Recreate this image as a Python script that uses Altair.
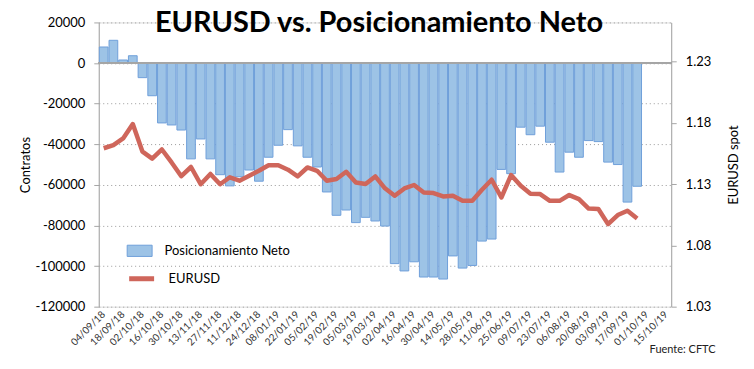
import altair as alt
import pandas as pd

weeks = [
    "04/09/18", "11/09/18", "18/09/18", "25/09/18", "02/10/18", "09/10/18",
    "16/10/18", "23/10/18", "30/10/18", "06/11/18", "13/11/18", "20/11/18",
    "27/11/18", "04/12/18", "11/12/18", "18/12/18", "24/12/18", "31/12/18",
    "08/01/19", "15/01/19", "22/01/19", "29/01/19", "05/02/19", "12/02/19",
    "19/02/19", "26/02/19", "05/03/19", "12/03/19", "19/03/19", "26/03/19",
    "02/04/19", "09/04/19", "16/04/19", "23/04/19", "30/04/19", "07/05/19",
    "14/05/19", "21/05/19", "28/05/19", "04/06/19", "11/06/19", "18/06/19",
    "25/06/19", "02/07/19", "09/07/19", "16/07/19", "23/07/19", "30/07/19",
    "06/08/19", "13/08/19", "20/08/19", "27/08/19", "03/09/19", "10/09/19",
    "17/09/19", "24/09/19", "01/10/19", "08/10/19", "15/10/19",
]

net_positions = [
    7900, 11200, 1500, 3600, -7200, -16100, -29500, -30500, -33000, -47200,
    -37400, -47200, -55000, -60500, -56000, -52700, -58200, -46400, -40500, -32800,
    -40800, -46400, -51200, -63500, -75000, -72400, -78600, -76000, -77800, -80300,
    -98800, -102400, -97900, -105400, -105400, -106400, -95000, -101000, -99700, -87700,
    -86700, -52400, -54500, -31600, -35300, -31100, -39000, -53700, -43900, -46400,
    -38200, -38700, -48800, -50000, -68500, -60700,
]

eurusd = [
    1.1593, 1.1619, 1.1673, 1.1791, 1.1565, 1.1508, 1.1583, 1.1477, 1.1365, 1.1440,
    1.1299, 1.1383, 1.1299, 1.1356, 1.1328, 1.1369, 1.1409, 1.1454, 1.1454, 1.1418,
    1.1363, 1.1436, 1.1409, 1.1328, 1.1342, 1.1401, 1.1314, 1.1301, 1.1363, 1.1266,
    1.1205, 1.1265, 1.1293, 1.1232, 1.1227, 1.1200, 1.1205, 1.1164, 1.1164, 1.1254,
    1.1336, 1.1191, 1.1374, 1.1287, 1.1222, 1.1219, 1.1164, 1.1164, 1.1211, 1.1178,
    1.1101, 1.1097, 1.0974, 1.1048, 1.1083, 1.1020,
]

tick_labels = weeks[::2]
left_ticks = [20000, 0, -20000, -40000, -60000, -80000, -100000, -120000]
right_ticks = [1.03, 1.08, 1.13, 1.18, 1.23]
series_names = ["Posicionamiento Neto", "EURUSD"]

n = len(net_positions)
df = pd.DataFrame({
    "Semana": weeks[:n],
    "Neto": net_positions,
    "EURUSD": eurusd,
    "SerieBar": [series_names[0]] * n,
    "SerieLine": [series_names[1]] * n,
})

FONT = "Lato"
BAR_FILL = "#9DC3E6"
BAR_STROKE = "#6FA0DA"
LINE_COLOR = "#CF665B"
AXIS_COLOR = "#A6A6A6"

x_enc = alt.X(
    "Semana:O",
    sort=weeks,
    scale=alt.Scale(domain=weeks, paddingInner=0.1, paddingOuter=0.06),
    axis=alt.Axis(
        values=tick_labels,
        labelAngle=-45,
        labelAlign="right",
        labelBaseline="middle",
        labelFontSize=10,
        labelColor="#333333",
        labelPadding=6,
        ticks=False,
        domain=False,
        grid=False,
        title="Fuente: CFTC",
        titleFontSize=11,
        titleFontWeight="normal",
        titleColor="#222222",
        titleAlign="right",
        titleBaseline="middle",
        titleX=618,
        titleY=43,
    ),
)

bars = alt.Chart(df).mark_bar(stroke=BAR_STROKE, strokeWidth=1).encode(
    x=x_enc,
    y=alt.Y(
        "Neto:Q",
        scale=alt.Scale(domain=[-120000, 20000], nice=False),
        axis=alt.Axis(
            values=left_ticks,
            labelExpr="datum.value + ''",
            title="Contratos",
            titleFontSize=13,
            titleFontWeight="normal",
            titleColor="#000000",
            titlePadding=2,
            labelFontSize=13,
            labelColor="#000000",
            labelPadding=9,
            tickSize=5,
            tickColor=AXIS_COLOR,
            domainColor=AXIS_COLOR,
            grid=True,
            gridDash=[1, 3],
            gridColor="#999999",
        ),
    ),
    fill=alt.Fill(
        "SerieBar:N",
        scale=alt.Scale(domain=[series_names[0]], range=[BAR_FILL]),
        legend=alt.Legend(
            title=None,
            orient="none",
            legendX=28,
            legendY=216,
            padding=0,
            symbolType="M-1,-0.45H1V0.45H-1Z",
            symbolSize=625,
            symbolStrokeColor=BAR_STROKE,
            symbolStrokeWidth=1,
            labelFontSize=13,
            labelFont=FONT,
            labelColor="#000000",
            labelOffset=12,
        ),
    ),
)

zero_rule = alt.Chart(df).mark_rule(color=AXIS_COLOR, strokeWidth=1).encode(
    y=alt.datum(0)
)

line = alt.Chart(df).mark_line(strokeWidth=4.5, strokeJoin="round").encode(
    x=x_enc,
    y=alt.Y(
        "EURUSD:Q",
        scale=alt.Scale(domain=[1.03, 1.262], nice=False, zero=False),
        axis=alt.Axis(
            orient="right",
            values=right_ticks,
            format=".2f",
            title="EURUSD spot",
            titleAngle=270,
            titleFontSize=13,
            titleFontWeight="normal",
            titleColor="#000000",
            titlePadding=30,
            labelFontSize=13,
            labelColor="#000000",
            labelPadding=9,
            tickSize=5,
            tickColor=AXIS_COLOR,
            domainColor=AXIS_COLOR,
            grid=False,
        ),
    ),
    stroke=alt.Stroke(
        "SerieLine:N",
        scale=alt.Scale(domain=[series_names[1]], range=[LINE_COLOR]),
        legend=alt.Legend(
            title=None,
            orient="none",
            legendX=28,
            legendY=242,
            padding=0,
            symbolType="stroke",
            symbolSize=625,
            symbolStrokeWidth=5,
            labelFontSize=13,
            labelFont=FONT,
            labelColor="#000000",
            labelOffset=12,
        ),
    ),
)

chart = (
    alt.layer(alt.layer(bars, zero_rule), line)
    .resolve_scale(y="independent")
    .properties(
        width=574,
        height=285,
        title=alt.TitleParams(
            "EURUSD vs. Posicionamiento Neto",
            fontSize=29,
            fontWeight="bold",
            font=FONT,
            color="#000000",
            anchor="middle",
            offset=0,
            dy=22,
            dx=-6,
        ),
        autosize=alt.AutoSizeParams(type="none"),
        padding={"left": 91, "top": 14, "right": 75, "bottom": 50},
    )
    .configure_view(stroke=None)
    .configure(font=FONT)
)

chart.save("out.html", embed_options={"renderer": "svg", "actions": False})
